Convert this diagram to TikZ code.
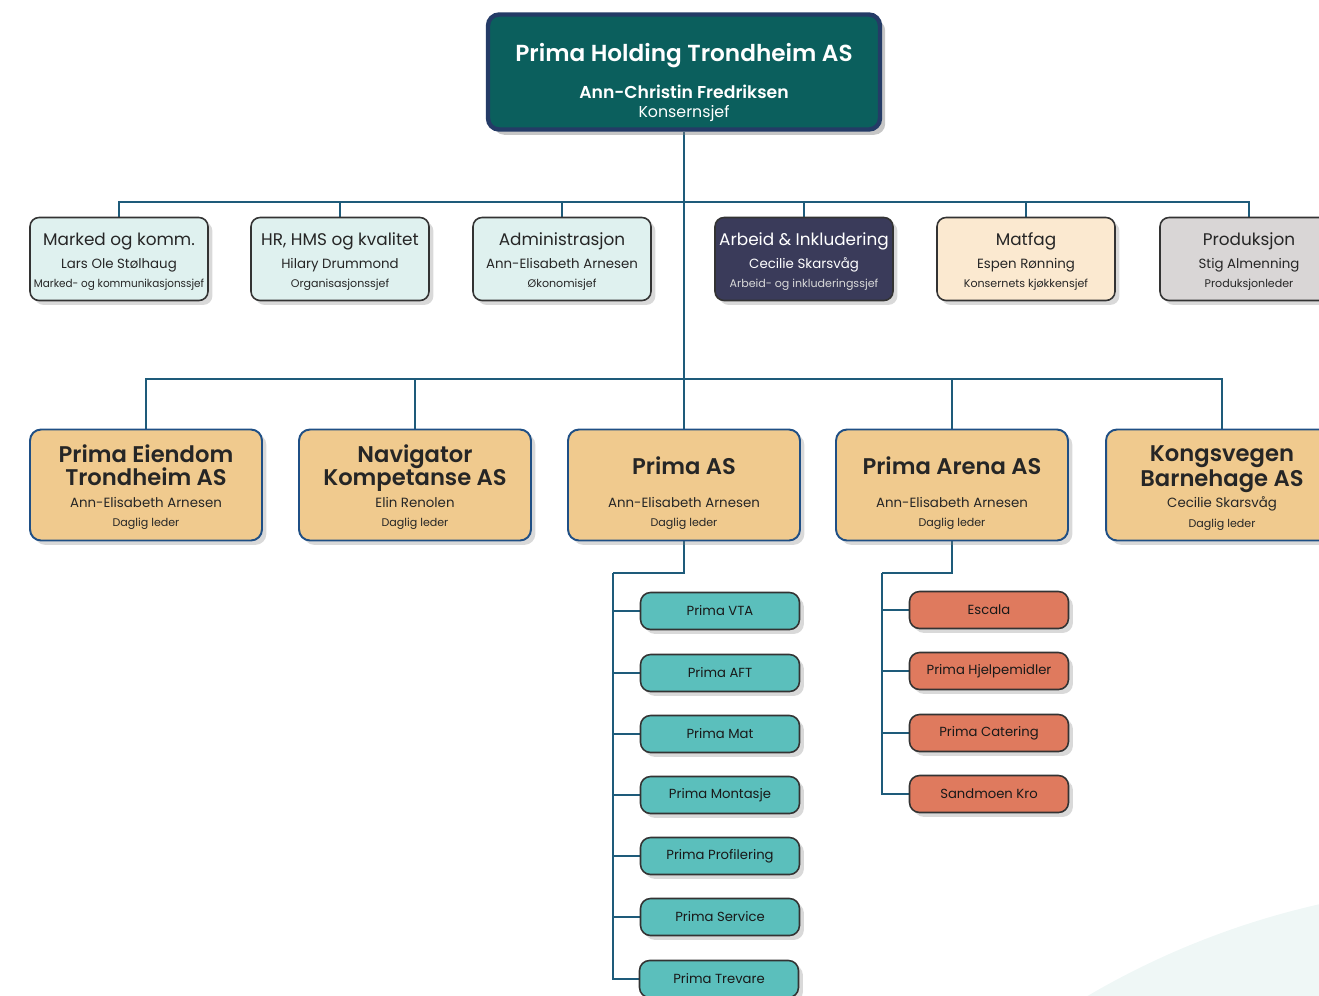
\documentclass[tikz,border=0pt]{standalone}
\usepackage{fontspec}
\setmainfont{Poppins}[BoldFont=* SemiBold]
\usepackage{tikz}
\usetikzlibrary{shadows,backgrounds}

\definecolor{headteal}{HTML}{0B5F5D}
\definecolor{headrim}{HTML}{243B66}
\definecolor{linkblue}{HTML}{1E5B7A}
\definecolor{staffmint}{HTML}{DFF1EF}
\definecolor{staffnavy}{HTML}{3A3B5A}
\definecolor{staffcream}{HTML}{FBE9D0}
\definecolor{staffgrey}{HTML}{D9D6D6}
\definecolor{boxrim}{HTML}{333333}
\definecolor{firmsand}{HTML}{F0CA8E}
\definecolor{firmrim}{HTML}{1F4F85}
\definecolor{unitteal}{HTML}{5BBFBC}
\definecolor{unitcoral}{HTML}{DF7A5E}
\definecolor{bgmint}{HTML}{EFF7F6}

\newcommand{\stitle}[1]{{\fontsize{9.6}{12}\selectfont\rule{0pt}{10pt}#1}}
\newcommand{\sname}[1]{{\fontsize{7.6}{11}\selectfont #1}}
\newcommand{\srole}[1]{{\fontsize{6.3}{9}\selectfont #1}}
\newcommand{\ftitle}[1]{\parbox[c][1.0cm][c]{4.5cm}{\centering\fontsize{12.9}{13}\selectfont\bfseries\rule{0pt}{13.5pt}#1\vphantom{g}}}

\begin{document}
\begin{tikzpicture}[x=0.02cm, y=-0.02cm,
  link/.style={draw=linkblue, line width=1.2pt},
  headbox/.style={rectangle, rounded corners=0.22cm, fill=headteal, draw=headrim, line width=2.5pt,
    minimum width=7.84cm, minimum height=2.3cm, align=center, text=white,
    drop shadow={shadow xshift=3pt, shadow yshift=-3pt, opacity=0.45}},
  staffbox/.style={rectangle, rounded corners=0.18cm, draw=boxrim, line width=0.9pt, text=black!85,
    minimum width=3.56cm, minimum height=1.66cm, inner sep=1pt, align=center,
    font=\fontsize{7.6}{11}\selectfont,
    drop shadow={shadow xshift=2.5pt, shadow yshift=-2.5pt, opacity=0.3}},
  firmbox/.style={rectangle, rounded corners=0.22cm, fill=firmsand, draw=firmrim, line width=1.1pt,
    minimum width=4.64cm, minimum height=2.22cm, inner sep=1pt, align=center, text=black!85,
    font=\fontsize{7.6}{11}\selectfont,
    drop shadow={shadow xshift=2.5pt, shadow yshift=-2.5pt, opacity=0.3}},
  unitbox/.style={rectangle, rounded corners=0.2cm, draw=boxrim, line width=0.9pt, text=black!90,
    minimum width=3.18cm, minimum height=0.74cm, font=\fontsize{7.5}{9}\selectfont,
    drop shadow={shadow xshift=2.5pt, shadow yshift=-2.5pt, opacity=0.3}},
]
\useasboundingbox (0,0) rectangle (1319,995);

% top
\node[headbox] (top) at (684,72) {{\fontsize{13.2}{16}\selectfont\bfseries\rule{0pt}{22pt}Prima Holding Trondheim AS}\\[9pt]
  {\fontsize{9.8}{12}\selectfont\bfseries Ann-Christin Fredriksen}\\[-1pt]{\fontsize{9}{11}\selectfont Konsernsjef}};

% staff
\node[staffbox, fill=staffmint] (mark) at (119,259) {\stitle{Marked og komm.}\\[2pt]\sname{Lars Ole Stølhaug}\\
  \srole{\scalebox{0.94}[1]{Marked- og kommunikasjonssjef}}};
\node[staffbox, fill=staffmint] (hr) at (340,259) {\stitle{HR, HMS og kvalitet}\\[2pt]\sname{Hilary Drummond}\\\srole{Organisasjonssjef}};
\node[staffbox, fill=staffmint] (adm) at (562,259) {\stitle{Administrasjon}\\[2pt]\sname{Ann-Elisabeth Arnesen}\\\srole{Økonomisjef}};
\node[staffbox, fill=staffnavy, text=white] (arbeid) at (804,259) {\stitle{Arbeid \& Inkludering}\\[2pt]\sname{Cecilie Skarsvåg}\\
  \srole{\color{white!85!black}Arbeid- og inkluderingssjef}};
\node[staffbox, fill=staffcream] (matfag) at (1026,259) {\stitle{Matfag}\\[2pt]\sname{Espen Rønning}\\\srole{Konsernets kjøkkensjef}};
\node[staffbox, fill=staffgrey] (prod) at (1249,259) {\stitle{Produksjon}\\[2pt]\sname{Stig Almenning}\\\srole{Produksjonleder}};

% companies
\node[firmbox] (eiendom) at (146,485) {\ftitle{Prima Eiendom\\Trondheim AS}\\[3pt]\sname{Ann-Elisabeth Arnesen}\\\srole{Daglig leder}};
\node[firmbox] (navigator) at (415,485) {\ftitle{Navigator\\Kompetanse AS}\\[3pt]\sname{Elin Renolen}\\\srole{Daglig leder}};
\node[firmbox] (primaas) at (684,485) {\ftitle{Prima AS}\\[3pt]\sname{Ann-Elisabeth Arnesen}\\\srole{Daglig leder}};
\node[firmbox] (arena) at (952,485) {\ftitle{Prima Arena AS}\\[3pt]\sname{Ann-Elisabeth Arnesen}\\\srole{Daglig leder}};
\node[firmbox] (kongsvegen) at (1222,485) {\ftitle{Kongsvegen\\Barnehage AS}\\[3pt]\sname{Cecilie Skarsvåg}\\\srole{Daglig leder}};

% units under Prima AS
\node[unitbox, fill=unitteal] (vta) at (720,611) {Prima VTA};
\node[unitbox, fill=unitteal] (aft) at (720,673) {Prima AFT};
\node[unitbox, fill=unitteal] (mat) at (720,734) {Prima Mat};
\node[unitbox, fill=unitteal] (montasje) at (720,795) {Prima Montasje};
\node[unitbox, fill=unitteal] (profilering) at (720,856) {Prima Profilering};
\node[unitbox, fill=unitteal] (service) at (720,917) {Prima Service};
\node[unitbox, fill=unitteal] (trevare) at (719,979) {Prima Trevare};

% units under Prima Arena
\node[unitbox, fill=unitcoral] (escala) at (989,610) {Escala};
\node[unitbox, fill=unitcoral] (hjelpemidler) at (989,671) {Prima Hjelpemidler};
\node[unitbox, fill=unitcoral] (catering) at (989,733) {Prima Catering};
\node[unitbox, fill=unitcoral] (kro) at (989,794) {Sandmoen Kro};

\coordinate (bus1) at (684,202);
\coordinate (bus2) at (684,379);
\coordinate (asbus) at (613,573);
\coordinate (arenabus) at (882,573);

\begin{pgfonlayer}{background}
\begin{scope}
  \clip (0,0) rectangle (1319,995);
  \fill[bgmint] (1500,1700) circle[radius=16.32cm];
\end{scope}
\path[link] (top.south) edge (bus2);
\foreach \n in {mark,hr,adm,arbeid,matfag,prod}
  \draw[link] (bus1) -| (\n.north);
\foreach \n in {eiendom,navigator,primaas,arena,kongsvegen}
  \draw[link] (bus2) -| (\n.north);
\draw[link] (primaas.south) |- (asbus);
\foreach \n in {vta,aft,mat,montasje,profilering,service,trevare}
  \draw[link] (asbus) |- (\n.west);
\draw[link] (arena.south) |- (arenabus);
\foreach \n in {escala,hjelpemidler,catering,kro}
  \draw[link] (arenabus) |- (\n.west);
\end{pgfonlayer}
\end{tikzpicture}
\end{document}
